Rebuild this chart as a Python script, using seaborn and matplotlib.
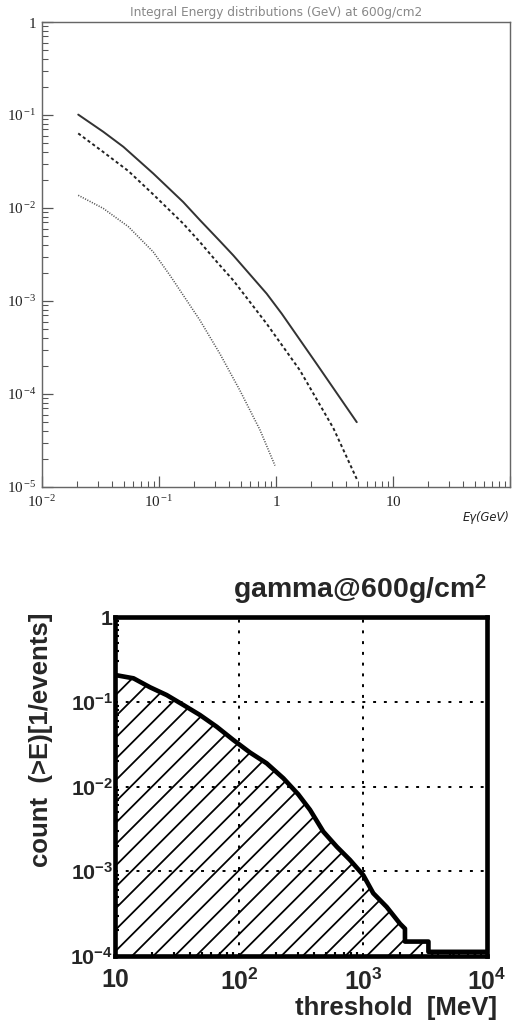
import numpy as np
import pandas as pd
import matplotlib
matplotlib.use("Agg")
import matplotlib.pyplot as plt
import seaborn as sns
from matplotlib.ticker import FixedLocator, FixedFormatter, LogLocator, NullFormatter

# ---------------- data: top panel (integral energy distributions, GeV) -------------
e_solid = [0.0204, 0.0334, 0.0496, 0.0893, 0.161, 0.224, 0.332, 0.431, 0.832, 1.12, 2.23, 4.9]
y_solid = [0.101, 0.066, 0.0455, 0.0235, 0.0116, 7.4e-3, 4.4e-3, 3.1e-3, 1.2e-3, 7.3e-4,
           2.1e-4, 4.98e-5]
e_dashed = [0.0204, 0.0334, 0.0547, 0.0893, 0.161, 0.224, 0.321, 0.431, 0.832, 1.6, 3.09, 4.9]
y_dashed = [0.0634, 0.040, 0.0250, 0.0140, 6.8e-3, 4.3e-3, 2.53e-3, 1.67e-3, 5.7e-4,
            1.8e-4, 4.3e-5, 1.22e-5]
e_dotted = [0.0204, 0.0334, 0.0547, 0.0893, 0.124, 0.224, 0.332, 0.492, 0.73, 0.98]
y_dotted = [0.0137, 9.9e-3, 6.3e-3, 3.37e-3, 1.89e-3, 6.2e-4, 2.7e-4, 1.09e-4, 4.1e-5, 1.7e-5]

top_title = "Integral Energy distributions (GeV) at 600g/cm2"
top_xlabel = "Eγ(GeV)"
top_xticks = [1e-2, 1e-1, 1, 10, 100]
top_xticklabels = [r"$\mathrm{10}^{\,\mathrm{-2}}$", r"$\mathrm{10}^{\,\mathrm{-1}}$",
                   r"$\mathrm{1}$", r"$\mathrm{10}$", ""]
top_yticks = [1e-5, 1e-4, 1e-3, 1e-2, 1e-1, 1]
top_yticklabels = [r"$\mathrm{10}^{\,\mathrm{-5}}$", r"$\mathrm{10}^{\,\mathrm{-4}}$",
                   r"$\mathrm{10}^{\,\mathrm{-3}}$", r"$\mathrm{10}^{\,\mathrm{-2}}$",
                   r"$\mathrm{10}^{\,\mathrm{-1}}$", r"$\mathrm{1}$"]

# ---------------- data: bottom panel (count > E vs threshold, MeV) -----------------
threshold = [10, 14.1, 19.2, 26.1, 35.6, 48.4, 66, 90, 123, 167, 228, 300, 374, 479,
             614, 785, 1005, 1210, 1550, 1990, 2180, 2180, 3370, 3370, 10000]
count = [0.207, 0.189, 0.148, 0.12, 0.0916, 0.0698, 0.0508, 0.0354, 0.0251, 0.0188,
         0.0125, 8.1e-3, 5.3e-3, 2.93e-3, 1.95e-3, 1.36e-3, 9.0e-4, 5.5e-4, 3.8e-4,
         2.4e-4, 2.1e-4, 1.48e-4, 1.48e-4, 1.12e-4, 1.12e-4]

bot_title = r"gamma@600g/cm$^{\mathbf{2}}$"
bot_ylabel = "count  (>E)[1/events]"
bot_xlabel = "threshold  [MeV]"
bot_xticks = [10, 100, 1000, 10000]
bot_xticklabels = [r"$\mathbf{10}$", r"$\mathbf{10^{2}}$", r"$\mathbf{10^{3}}$", r"$\mathbf{10^{4}}$"]
bot_yticks = [1e-4, 1e-3, 1e-2, 1e-1, 1]
bot_yticklabels = [r"$\mathbf{10^{-4}}$", r"$\mathbf{10^{-3}}$", r"$\mathbf{10^{-2}}$",
                   r"$\mathbf{10^{-1}}$", r"$\mathbf{1}$"]

# ---------------- style ----------------
sns.set_style("ticks")
plt.rcParams["font.family"] = ["DejaVu Sans"]
plt.rcParams["mathtext.fontset"] = "custom"
plt.rcParams["mathtext.rm"] = "Liberation Serif"
plt.rcParams["mathtext.it"] = "Liberation Serif:italic"
plt.rcParams["mathtext.bf"] = "Liberation Sans:bold"
plt.rcParams["mathtext.sf"] = "Liberation Sans"
plt.rcParams["hatch.linewidth"] = 1.0

DPI = 128
fig = plt.figure(figsize=(512 / DPI, 1025 / DPI), dpi=DPI)
fig.patch.set_facecolor("white")

# ================= top panel =================
ax1 = fig.add_axes([42 / 512, 1 - 487 / 1025, 468 / 512, 465 / 1025])
ax1.set_xscale("log")
ax1.set_yscale("log")

sns.lineplot(x=e_solid, y=y_solid, ax=ax1, color="#333333", lw=1.1, linestyle="-")
sns.lineplot(x=e_dashed, y=y_dashed, ax=ax1, color="#222222", lw=1.1,
             linestyle=(0, (1.6, 1.4)))
sns.lineplot(x=e_dotted, y=y_dotted, ax=ax1, color="#555555", lw=0.9,
             linestyle=(0, (0.7, 0.9)))

ax1.set_xlim(1e-2, 1e2)
ax1.set_ylim(1e-5, 1)
ax1.xaxis.set_major_locator(FixedLocator(top_xticks))
ax1.xaxis.set_major_formatter(FixedFormatter(top_xticklabels))
ax1.yaxis.set_major_locator(FixedLocator(top_yticks))
ax1.yaxis.set_major_formatter(FixedFormatter(top_yticklabels))
ax1.xaxis.set_minor_locator(LogLocator(base=10, subs=np.arange(2, 10), numticks=30))
ax1.yaxis.set_minor_locator(LogLocator(base=10, subs=np.arange(2, 10), numticks=30))
ax1.xaxis.set_minor_formatter(NullFormatter())
ax1.yaxis.set_minor_formatter(NullFormatter())
ax1.tick_params(which="both", direction="in", top=False, right=False,
                color="#555555", labelcolor="#222222", labelsize=8.5)
ax1.tick_params(which="major", length=6, width=0.7)
ax1.tick_params(which="minor", length=3.5, width=0.6)
ax1.tick_params(axis="x", pad=4)
ax1.tick_params(axis="y", pad=3)
for s in ax1.spines.values():
    s.set_color("#666666")
    s.set_linewidth(0.8)
ax1.set_title(top_title, fontsize=6.8, color="#888888", pad=3.5)
ax1.text(1.0, -0.065, top_xlabel, transform=ax1.transAxes, ha="right", va="center",
         fontsize=6.5, fontstyle="italic", color="#222222")
ax1.set_xlabel("")
ax1.set_ylabel("")

# ================= bottom panel =================
ax2 = fig.add_axes([115 / 512, 1 - 956 / 1025, 372 / 512, 339 / 1025])
ax2.set_xscale("log")
ax2.set_yscale("log")
ax2.set_xlim(10, 1e4)
ax2.set_ylim(1e-4, 1)

ax2.fill_between(threshold, count, 1e-4, facecolor="none", edgecolor="black",
                 linewidth=0, hatch="//")
sns.lineplot(x=threshold, y=count, ax=ax2, estimator=None, sort=False,
             color="black", lw=2.6)

ax2.xaxis.set_major_locator(FixedLocator(bot_xticks))
ax2.xaxis.set_major_formatter(FixedFormatter(bot_xticklabels))
ax2.yaxis.set_major_locator(FixedLocator(bot_yticks))
ax2.yaxis.set_major_formatter(FixedFormatter(bot_yticklabels))
ax2.xaxis.set_minor_locator(LogLocator(base=10, subs=np.arange(2, 10), numticks=30))
ax2.yaxis.set_minor_locator(LogLocator(base=10, subs=np.arange(2, 10), numticks=30))
ax2.xaxis.set_minor_formatter(NullFormatter())
ax2.yaxis.set_minor_formatter(NullFormatter())
ax2.grid(True, which="major", color="black", linestyle=(0, (1.5, 4)), linewidth=1.1)
ax2.tick_params(which="both", direction="in", top=False, right=False, color="black")
ax2.tick_params(which="major", length=0)
ax2.tick_params(which="minor", length=2.5, width=1.2)
ax2.tick_params(axis="x", pad=7, labelsize=14)
ax2.tick_params(axis="y", pad=1, labelsize=12)
for s in ax2.spines.values():
    s.set_color("black")
    s.set_linewidth(2.6)

ax2.set_title(bot_title, loc="right", fontsize=16, fontweight="bold",
              family="Liberation Sans", pad=11)
ax2.set_ylabel(bot_ylabel, fontsize=14.5, fontweight="bold", family="Liberation Sans")
ax2.yaxis.set_label_coords(-0.167, 0.637)
ax2.set_xlabel("")
ax2.text((497 - 115) / 372, (956 - 1008) / 339, bot_xlabel, transform=ax2.transAxes,
         ha="right", va="center", fontsize=14.5, fontweight="bold",
         family="Liberation Sans")

fig.savefig("out.png", dpi=DPI, facecolor="white")
